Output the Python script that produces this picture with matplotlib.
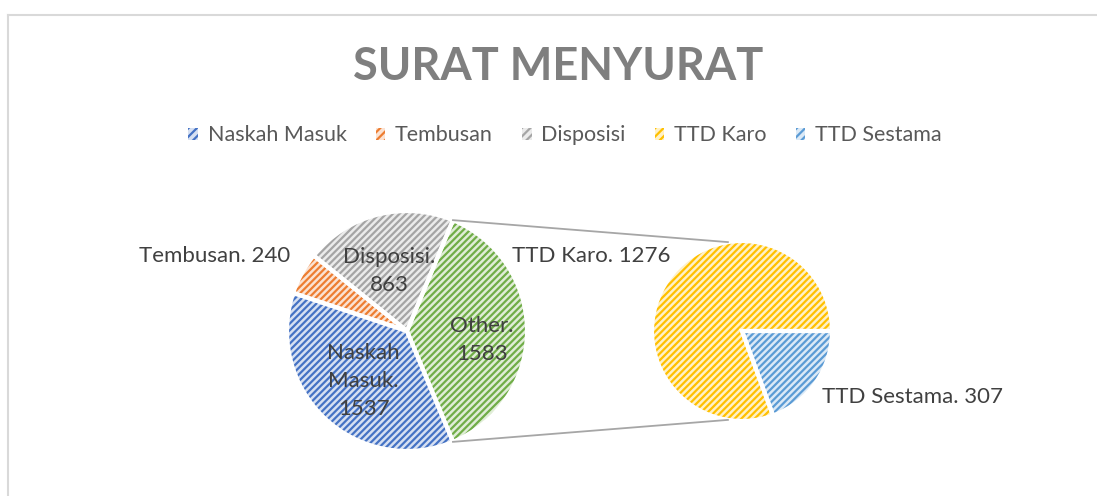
import numpy as np
import matplotlib
matplotlib.use("Agg")
import matplotlib.pyplot as plt
from matplotlib.patches import Patch
from matplotlib.lines import Line2D
from matplotlib.colors import to_rgb

# ==============================
# Data
# ==============================
main_labels = ["Naskah Masuk", "Tembusan", "Disposisi", "Other"]
main_values = [1537, 240, 863, 1583]
sub_labels = ["TTD Sestama", "TTD Karo"]
sub_values = [307, 1276]
legend_labels = ["Naskah Masuk", "Tembusan", "Disposisi", "TTD Karo", "TTD Sestama"]

colors = {
    "Naskah Masuk": "#4472C4",
    "Tembusan": "#ED7D31",
    "Disposisi": "#A5A5A5",
    "Other": "#70AD47",
    "TTD Karo": "#FFC000",
    "TTD Sestama": "#5B9BD5",
}

plt.rcParams['font.family'] = ['Lato', 'DejaVu Sans']
plt.rcParams['hatch.linewidth'] = 1.6
HATCH = "/////"


def tint(c, amount=0.78):
    r, g, b = to_rgb(c)
    return (r + (1 - r) * amount, g + (1 - g) * amount, b + (1 - b) * amount)


fig = plt.figure(figsize=(10.97, 4.96), dpi=100)
ax = fig.add_axes([0, 0, 1, 1])

# marco del grafico
ax.add_line(Line2D([7.5, 1097], [481.5, 481.5], color="#D9D9D9", lw=1.5))
ax.add_line(Line2D([7.5, 7.5], [0, 481.5], color="#D9D9D9", lw=1.5))

main_c = (407, 165)
main_r = 120
sub_c = (742, 165)
sub_r = 90

other_share = main_values[-1] / sum(main_values) * 360
start_main = -other_share / 2


def draw_pie(values, names, center, radius, start):
    cols = [colors[n] for n in names]
    wedges, _ = ax.pie(values, center=center, radius=radius, startangle=start,
                       counterclock=False, frame=True,
                       wedgeprops=dict(linewidth=0))
    for w, c in zip(wedges, cols):
        w.set_facecolor(tint(c))
        w.set_edgecolor(c)
        w.set_hatch(HATCH)
    # bordes blancos entre rebanadas
    ax.pie(values, center=center, radius=radius, startangle=start,
           counterclock=False, frame=True,
           wedgeprops=dict(facecolor="none", edgecolor="white", linewidth=3))
    return wedges


mw = draw_pie(main_values, main_labels, main_c, main_r, start_main)
sw = draw_pie(sub_values, sub_labels, sub_c, sub_r, 0)
ax.set_xlim(0, 1097)
ax.set_ylim(0, 496)
ax.set_aspect('equal')
ax.axis('off')

# lineas de conexion
other = mw[-1]
for ang_main, ang_sub in [(other.theta2, 99), (other.theta1, -99)]:
    x0 = main_c[0] + main_r * np.cos(np.radians(ang_main))
    y0 = main_c[1] + main_r * np.sin(np.radians(ang_main))
    x1 = sub_c[0] + sub_r * np.cos(np.radians(ang_sub))
    y1 = sub_c[1] + sub_r * np.sin(np.radians(ang_sub))
    ax.plot([x0, x1], [y0, y1], color="#A6A6A6", lw=1.3)

# etiquetas (factor radial, desplazamiento angular)
lab_color = "#404040"
fs = 16
inside = {"Naskah Masuk": (0.55, 2), "Disposisi": (0.52, 2), "Other": (0.63, -7)}
text_main = {
    "Naskah Masuk": "Naskah\nMasuk.\n{}",
    "Disposisi": "Disposisi.\n{}",
    "Other": "Other.\n{}",
}
for w, name, val in zip(mw, main_labels, main_values):
    if name in inside:
        k, off = inside[name]
        mid = np.radians((w.theta1 + w.theta2) / 2 + off)
        x = main_c[0] + k * main_r * np.cos(mid)
        y = main_c[1] + k * main_r * np.sin(mid)
        ax.text(x, y, text_main[name].format(val), ha='center', va='center',
                fontsize=fs, color=lab_color, linespacing=1.5)
    else:
        ax.text(290, 240, f"{name}. {val}", ha='right', va='center',
                fontsize=fs, color=lab_color)

ax.text(591, 240, f"{sub_labels[1]}. {sub_values[1]}", ha='center', va='center',
        fontsize=fs, color=lab_color)
ax.text(912, 99, f"{sub_labels[0]}. {sub_values[0]}", ha='center', va='center',
        fontsize=fs, color=lab_color)

# titulo
ax.text(558, 429, "SURAT MENYURAT", ha='center', va='center', fontsize=32.5,
        fontweight='bold', color="#7F7F7F")

# leyenda
handles = [Patch(facecolor=tint(colors[n]), edgecolor=colors[n], hatch="////", lw=0)
           for n in legend_labels]
leg = fig.legend(handles, legend_labels, loc='center', bbox_to_anchor=(0.515, 0.727),
                 ncol=5, frameon=False, fontsize=15.5, handlelength=0.45,
                 handleheight=0.45, handletextpad=0.45, columnspacing=1.35)
for t in leg.get_texts():
    t.set_color("#595959")

fig.savefig("out.png", dpi=100)
